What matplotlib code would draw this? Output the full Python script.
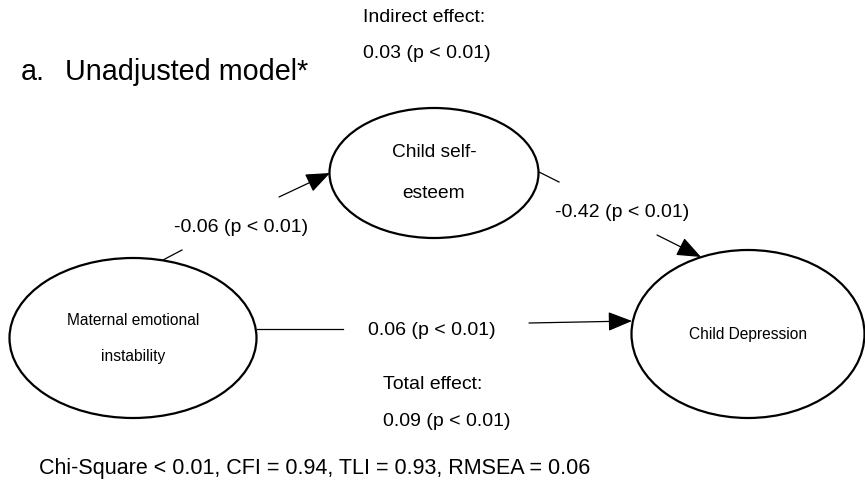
import matplotlib
matplotlib.use("Agg")
import matplotlib.pyplot as plt
from matplotlib.patches import Ellipse

plt.rcParams['font.family'] = ['Liberation Sans', 'DejaVu Sans']

# --- content ---
panel_label = "a."
panel_title = "Unadjusted model*"
node_names = ["Maternal emotional\n\ninstability", "Child self-\n\nesteem", "Child Depression"]
path_a = "-0.06 (p < 0.01)"
path_b = "-0.42 (p < 0.01)"
path_c = "0.06 (p < 0.01)"
indirect_effect = ["Indirect effect:", "0.03 (p < 0.01)"]
total_effect = ["Total effect:", "0.09 (p < 0.01)"]
fit_stats = "Chi-Square < 0.01, CFI = 0.94, TLI = 0.93, RMSEA = 0.06"

# --- layout (pixel coords, y pointing down) ---
node_pos = [(133, 338), (434, 173), (748, 334)]
node_size = [(247, 160), (209, 130), (233, 168)]
node_font = [11.2, 13.8, 11.2]

W, H = 865, 486
fig = plt.figure(figsize=(W / 100, H / 100), dpi=100)
ax = fig.add_axes([0, 0, 1, 1])
ax.set_xlim(0, W)
ax.set_ylim(H, 0)
ax.axis('off')

# ellipses
for (cx, cy), (w, h), name, fs in zip(node_pos, node_size, node_names, node_font):
    ax.add_patch(Ellipse((cx, cy), w, h, fill=False, edgecolor='black', lw=1.6))
    ax.text(cx, cy, name, ha='center', va='center', fontsize=fs, linespacing=1.25)


def split_arrow(p0, p1, q0, q1):
    # first piece is plain line, second ends with an arrowhead
    ax.plot([p0[0], p1[0]], [p0[1], p1[1]], color='black', lw=0.9)
    ax.annotate('', xy=q1, xytext=q0,
                arrowprops=dict(arrowstyle='-|>,head_length=0.75,head_width=0.3',
                                color='black', lw=0.9, shrinkA=0, shrinkB=0,
                                mutation_scale=20))


split_arrow((163, 260), (182, 250), (279, 197), (330, 173))
split_arrow((539, 172), (559, 182), (657, 235), (701, 257))
split_arrow((257, 329), (343, 329), (529, 323), (632, 321))

# path labels
ax.text(241, 227, path_a, ha='center', va='center', fontsize=14)
ax.text(622, 212, path_b, ha='center', va='center', fontsize=14)
ax.text(432, 330, path_c, ha='center', va='center', fontsize=14)

# effects
ax.text(363, 17, indirect_effect[0], ha='left', va='center', fontsize=14)
ax.text(363, 54, indirect_effect[1], ha='left', va='center', fontsize=14)
ax.text(383, 384, total_effect[0], ha='left', va='center', fontsize=14)
ax.text(383, 421, total_effect[1], ha='left', va='center', fontsize=14)

# title and fit stats
ax.text(21, 72, panel_label, ha='left', va='center', fontsize=20.7)
ax.text(65, 72, panel_title, ha='left', va='center', fontsize=20.7)
ax.text(39, 468, fit_stats, ha='left', va='center', fontsize=15.5)

fig.savefig('out.png', dpi=100, facecolor='white')
